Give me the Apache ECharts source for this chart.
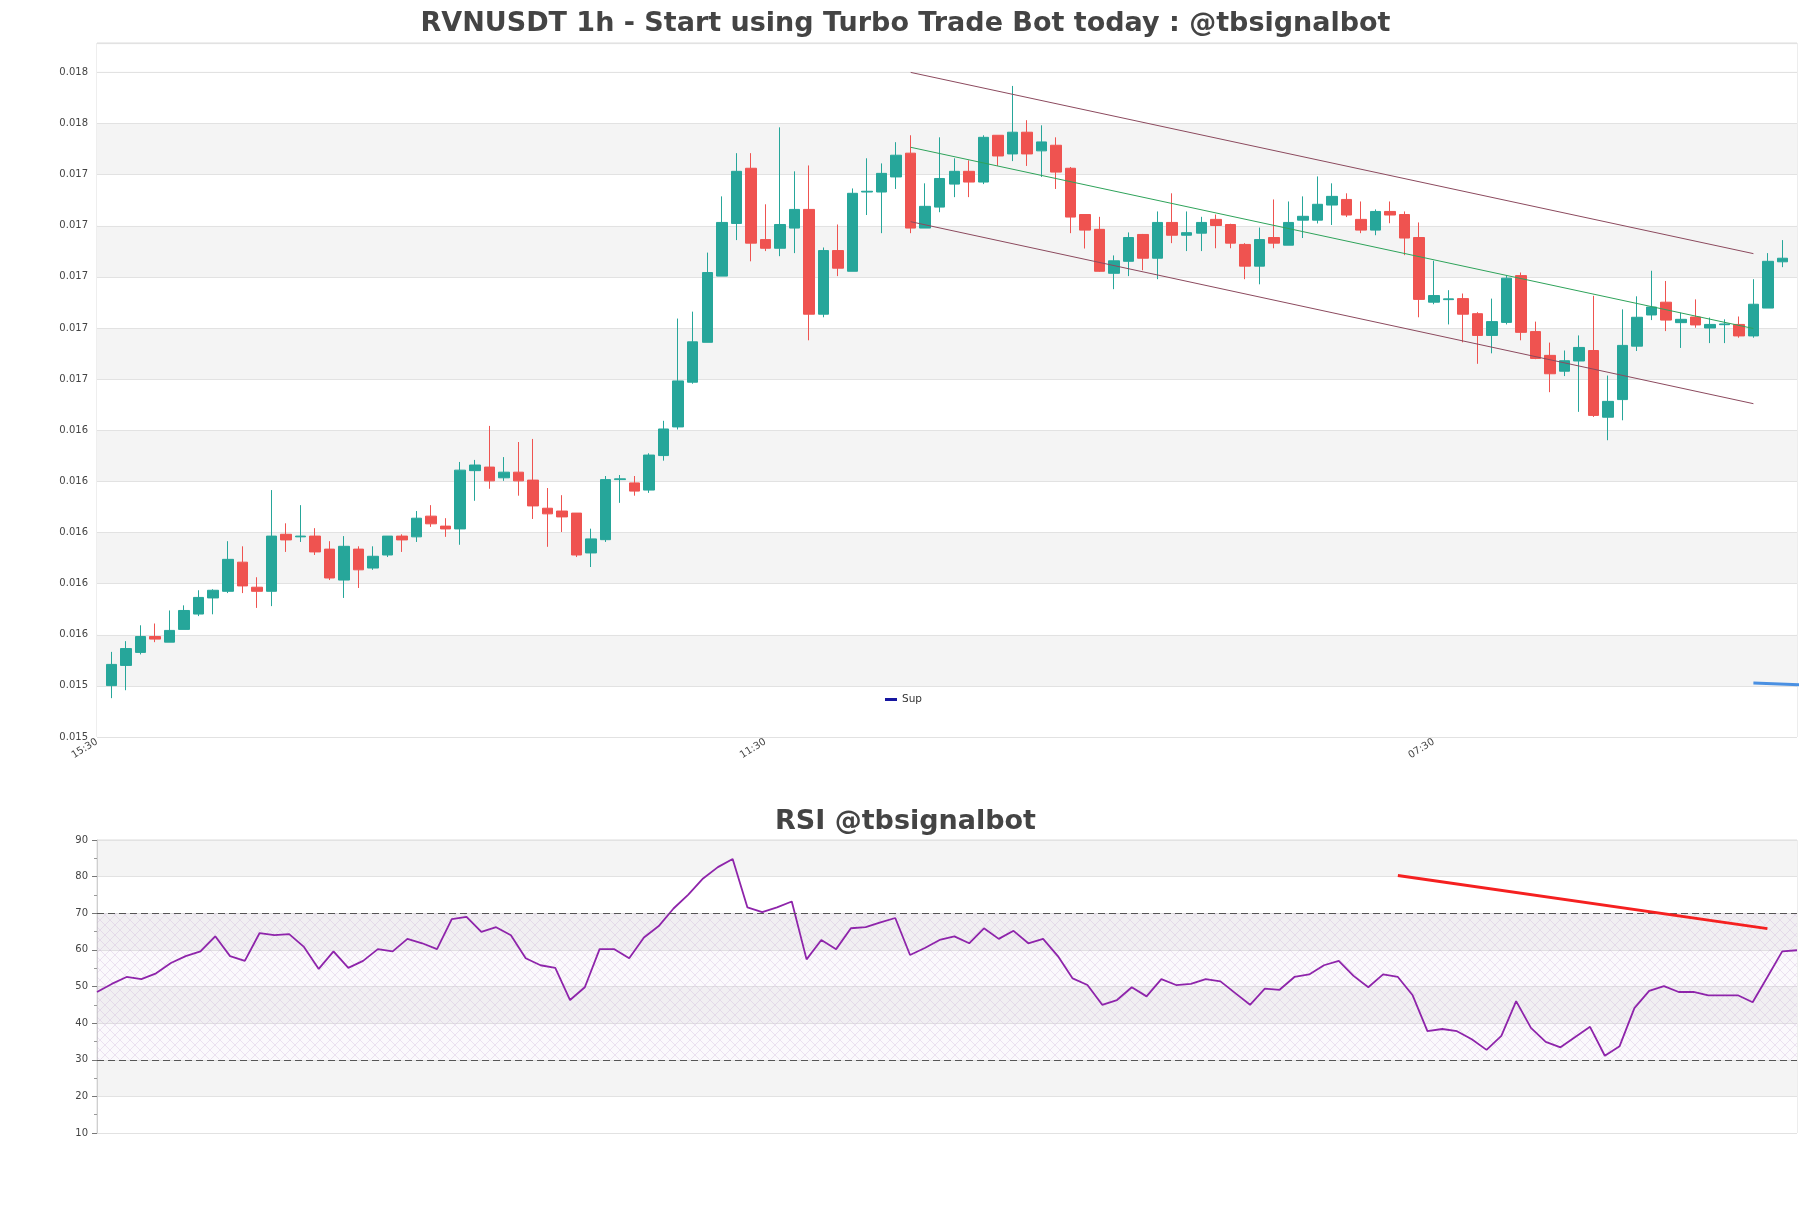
<!DOCTYPE html>
<html><head><meta charset="utf-8">
<script src="https://cdn.jsdelivr.net/npm/echarts@6/dist/echarts.min.js"></script>
<style>html,body{margin:0;padding:0;background:#fff}#c{width:1811px;height:1208px}</style>
</head><body><div id="c"></div>
<script>
const mainTitle = 'RVNUSDT 1h - Start using Turbo Trade Bot today : @tbsignalbot';
const rsiTitle = 'RSI @tbsignalbot';

// x tick labels keyed by axis position (candles sit at 1..116)
const xTickPos = [0, 46, 92];
const xTickLabels = ['15:30', '11:30', '07:30'];

const opens = [0.015401,0.015480,0.015531,0.015593,0.015571,0.015621,0.015681,0.015744,0.015770,0.015884,
0.015786,0.015770,0.015993,0.015983,0.015986,0.015935,0.015814,0.015935,0.015861,0.015912,
0.015986,0.015983,0.016064,0.016025,0.016014,0.016242,0.016256,0.016214,0.016236,0.016205,
0.016095,0.016084,0.016076,0.015920,0.015972,0.016207,0.016194,0.016166,0.016301,0.016413,
0.016588,0.016744,0.017003,0.017209,0.017425,0.017146,0.017112,0.017191,0.017264,0.016854,
0.017103,0.017022,0.017332,0.017332,0.017391,0.017484,0.017191,0.017273,0.017363,0.017413,
0.017371,0.017554,0.017481,0.017566,0.017493,0.017515,0.017425,0.017244,0.017186,0.017014,
0.017061,0.017166,0.017073,0.017213,0.017163,0.017171,0.017225,0.017205,0.017127,0.017042,
0.017154,0.017124,0.017222,0.017222,0.017281,0.017303,0.017225,0.017183,0.017256,0.017244,
0.017154,0.016901,0.016911,0.016915,0.016856,0.016771,0.016822,0.017005,0.016786,0.016693,
0.016631,0.016671,0.016712,0.016451,0.016520,0.016729,0.016851,0.016901,0.016821,0.016843,
0.016800,0.016813,0.016814,0.016769,0.016878,0.017059];
const closes = [0.015484,0.015546,0.015593,0.015583,0.015617,0.015695,0.015746,0.015774,0.015895,0.015791,
0.015770,0.015986,0.015971,0.015986,0.015924,0.015822,0.015946,0.015854,0.015907,0.015986,
0.015971,0.016056,0.016034,0.016014,0.016244,0.016264,0.016202,0.016236,0.016202,0.016104,
0.016073,0.016061,0.015912,0.015975,0.016207,0.016210,0.016162,0.016303,0.016405,0.016593,
0.016746,0.017017,0.017213,0.017413,0.017132,0.017112,0.017205,0.017264,0.016854,0.017103,
0.017034,0.017327,0.017335,0.017405,0.017476,0.017191,0.017276,0.017385,0.017413,0.017371,
0.017546,0.017473,0.017566,0.017481,0.017528,0.017410,0.017234,0.017183,0.017022,0.017063,
0.017154,0.017073,0.017213,0.017163,0.017173,0.017213,0.017201,0.017132,0.017042,0.017146,
0.017132,0.017213,0.017237,0.017284,0.017315,0.017242,0.017183,0.017256,0.017242,0.017152,
0.016912,0.016927,0.016914,0.016854,0.016771,0.016825,0.016995,0.016783,0.016681,0.016621,
0.016672,0.016724,0.016458,0.016513,0.016732,0.016842,0.016882,0.016831,0.016834,0.016812,
0.016814,0.016816,0.016769,0.016893,0.017061,0.017073];
const lows = [0.015352,0.015383,0.015523,0.015571,0.015571,0.015621,0.015673,0.015680,0.015763,0.015763,
0.015705,0.015712,0.015924,0.015963,0.015912,0.015814,0.015744,0.015783,0.015854,0.015904,
0.015924,0.015963,0.016022,0.015983,0.015952,0.016124,0.016171,0.016202,0.016144,0.016053,
0.015944,0.016002,0.015904,0.015865,0.015963,0.016116,0.016144,0.016155,0.016281,0.016403,
0.016582,0.016744,0.017003,0.017144,0.017061,0.017101,0.017081,0.017093,0.016752,0.016842,
0.017003,0.017022,0.017242,0.017171,0.017344,0.017171,0.017191,0.017253,0.017312,0.017312,
0.017363,0.017434,0.017453,0.017434,0.017391,0.017344,0.017171,0.017111,0.017020,0.016952,
0.017003,0.017026,0.016991,0.017132,0.017101,0.017101,0.017112,0.017112,0.016991,0.016971,
0.017112,0.017124,0.017152,0.017209,0.017203,0.017234,0.017171,0.017163,0.017210,0.017085,
0.016842,0.016893,0.016814,0.016744,0.016660,0.016701,0.016814,0.016752,0.016678,0.016549,
0.016612,0.016472,0.016452,0.016361,0.016439,0.016710,0.016831,0.016788,0.016722,0.016801,
0.016741,0.016741,0.016762,0.016762,0.016878,0.017038];
const highs = [0.015533,0.015575,0.015637,0.015644,0.015695,0.015715,0.015774,0.015778,0.015966,0.015946,
0.015825,0.016166,0.016036,0.016107,0.016017,0.015966,0.015986,0.015946,0.015946,0.015986,
0.015993,0.016084,0.016107,0.016056,0.016276,0.016284,0.016417,0.016295,0.016354,0.016366,
0.016174,0.016146,0.016076,0.016015,0.016221,0.016225,0.016221,0.016310,0.016437,0.016837,
0.016864,0.017095,0.017315,0.017484,0.017484,0.017284,0.017585,0.017413,0.017436,0.017115,
0.017205,0.017346,0.017464,0.017444,0.017527,0.017554,0.017366,0.017546,0.017464,0.017456,
0.017554,0.017554,0.017747,0.017613,0.017593,0.017546,0.017430,0.017244,0.017235,0.017084,
0.017174,0.017168,0.017256,0.017327,0.017256,0.017235,0.017244,0.017208,0.017132,0.017193,
0.017303,0.017295,0.017315,0.017393,0.017366,0.017327,0.017295,0.017264,0.017295,0.017256,
0.017213,0.017063,0.016948,0.016935,0.016862,0.016915,0.017007,0.017017,0.016825,0.016743,
0.016712,0.016771,0.016926,0.016614,0.016873,0.016924,0.017024,0.016984,0.016860,0.016912,
0.016841,0.016834,0.016845,0.016991,0.017093,0.017144];

const supportLevel = 0.016114;
// trend channel: [x, y] end points in axis units
const upperLine = [[56, 0.017800], [114, 0.017091]];
const midLine   = [[56, 0.017507], [114, 0.016798]];
const lowerLine = [[56, 0.017216], [114, 0.016504]];
const supLine   = [[114, 0.015411], [117.7, 0.015403]];

const rsiValues = [48.5,50.7,52.6,52.0,53.6,56.4,58.3,59.6,63.7,58.3,
57.0,64.6,64.0,64.3,60.8,54.8,59.6,55.1,57.0,60.2,
59.6,63.0,61.8,60.2,68.4,69.0,64.9,66.2,64.0,57.7,
55.8,55.1,46.3,49.8,60.2,60.2,57.7,63.4,66.5,71.3,
75.1,79.5,82.6,84.8,71.6,70.3,71.6,73.2,57.4,62.7,
60.2,65.9,66.2,67.5,68.7,58.6,60.5,62.7,63.7,61.8,
65.9,63.0,65.2,61.8,63.0,58.3,52.2,50.4,45.0,46.3,
49.8,47.3,52.0,50.4,50.7,52.0,51.4,48.2,45.0,49.4,
49.1,52.6,53.3,55.8,57.0,52.9,49.8,53.3,52.6,47.6,
37.8,38.4,37.8,35.6,32.7,36.5,46.0,38.7,34.9,33.4,
36.2,39.0,31.1,33.7,44.1,48.8,50.1,48.5,48.5,47.6,
47.6,47.6,45.7,52.6,59.6,59.9];
const rsiTrend = [[88, 80.3], [113, 65.8]];
const rsiTicks = [10, 90];

const candleData = opens.map((o, i) => [i + 1, o, closes[i], lows[i], highs[i]]);
const rsiData = rsiValues.map((v, i) => [i, v]);

function hatchPattern() {
  const c = document.createElement('canvas');
  c.width = 10; c.height = 10;
  const g = c.getContext('2d');
  g.fillStyle = 'rgba(215,195,225,0.10)';
  g.fillRect(0, 0, 10, 10);
  g.strokeStyle = 'rgba(195,165,210,0.42)';
  g.lineWidth = 0.7;
  g.beginPath();
  g.moveTo(0, 0); g.lineTo(10, 10);
  g.moveTo(10, 0); g.lineTo(0, 10);
  g.stroke();
  return c;
}

const font = 'DejaVu Sans';
const chart = echarts.init(document.getElementById('c'));
chart.setOption({
  animation: false,
  backgroundColor: '#ffffff',
  title: [
    { text: mainTitle, left: 'center', top: 5,
      textStyle: { fontFamily: font, fontSize: 27, fontWeight: 'bold', color: '#444' } },
    { text: rsiTitle, left: 'center', top: 803,
      textStyle: { fontFamily: font, fontSize: 27, fontWeight: 'bold', color: '#444' } }
  ],
  legend: {
    left: 880, top: 689, icon: 'rect', itemWidth: 12, itemHeight: 3, itemGap: 10,
    data: [{ name: 'Sup', itemStyle: { color: '#1616a0' } }],
    textStyle: { fontFamily: font, fontSize: 10.5, color: '#333' }
  },
  grid: [
    { left: 97, right: 14, top: 43, height: 694, show: true, borderColor: '#dcdcdc', borderWidth: 1, backgroundColor: 'transparent' },
    { left: 97, right: 14, top: 840, height: 293, show: true, borderColor: '#dcdcdc', borderWidth: 1, backgroundColor: 'transparent' }
  ],
  xAxis: [
    { gridIndex: 0, type: 'value', min: 0, max: 117, interval: 46,
      axisLine: { show: false }, axisTick: { show: false }, splitLine: { show: false },
      axisLabel: { rotate: 32, margin: 4, fontFamily: font, fontSize: 10, color: '#444',
        showMaxLabel: false,
        formatter: v => { const k = xTickPos.indexOf(v); return k >= 0 ? xTickLabels[k] : ''; } } },
    { gridIndex: 1, type: 'value', min: 0, max: rsiValues.length - 1,
      axisLine: { show: false }, axisTick: { show: false }, splitLine: { show: false },
      axisLabel: { show: false } }
  ],
  yAxis: [
    { gridIndex: 0, type: 'value', min: 0.0152, max: 0.017915, interval: 0.0002,
      axisLine: { show: false }, axisTick: { show: false },
      axisLabel: { margin: 9, fontFamily: font, fontSize: 10, color: '#444', showMaxLabel: false,
        formatter: v => v.toFixed(3) },
      splitLine: { show: true, lineStyle: { color: '#e2e2e2', width: 1 } },
      splitArea: { show: true, areaStyle: { color: ['#ffffff', '#f4f4f4'] } } },
    { gridIndex: 1, type: 'value', min: rsiTicks[0], max: rsiTicks[1], interval: 10,
      axisLine: { show: true, lineStyle: { color: '#cfcfcf' } },
      axisTick: { show: true, length: 5, lineStyle: { color: '#777' } },
      minorTick: { show: true, splitNumber: 2, length: 3, lineStyle: { color: '#999' } },
      axisLabel: { margin: 9, fontFamily: font, fontSize: 10, color: '#444' },
      splitLine: { show: true, lineStyle: { color: '#e2e2e2', width: 1 } },
      splitArea: { show: true, areaStyle: { color: ['#ffffff', '#f4f4f4'] } } }
  ],
  series: [
    { type: 'candlestick', name: 'RVNUSDT', xAxisIndex: 0, yAxisIndex: 0,
      data: candleData, encode: { x: 0, y: [1, 2, 3, 4] }, barWidth: 11,
      itemStyle: { color: '#26a69a', color0: '#ef5350', borderColor: '#26a69a', borderColor0: '#ef5350', borderWidth: 1 },
      markLine: { silent: true, symbol: 'none', label: { show: false },
        lineStyle: { color: '#3a98d6', type: [9, 5], width: 1.3 },
        data: [{ yAxis: supportLevel }] },
      markArea: { silent: true, itemStyle: { color: '#ffffff' },
        data: [[{ yAxis: 0.017803 }, { yAxis: 0.01791 }]] } },
    { type: 'line', name: 'upper', xAxisIndex: 0, yAxisIndex: 0, data: upperLine, symbol: 'none',
      lineStyle: { color: '#8c4a5e', width: 1 }, z: 4 },
    { type: 'line', name: 'mid', xAxisIndex: 0, yAxisIndex: 0, data: midLine, symbol: 'none',
      lineStyle: { color: '#2ea35a', width: 1 }, z: 4 },
    { type: 'line', name: 'lower', xAxisIndex: 0, yAxisIndex: 0, data: lowerLine, symbol: 'none',
      lineStyle: { color: '#8c4a5e', width: 1 }, z: 4 },
    { type: 'line', name: 'Sup', xAxisIndex: 0, yAxisIndex: 0, data: supLine, symbol: 'none', clip: false,
      itemStyle: { color: '#1616a0' },
      lineStyle: { color: '#4a90e2', width: 3 }, z: 4 },
    { type: 'line', name: 'RSI', xAxisIndex: 1, yAxisIndex: 1, data: rsiData, symbol: 'none',
      lineStyle: { color: '#8e24aa', width: 1.8 }, z: 4,
      markArea: { silent: true, itemStyle: { color: { image: hatchPattern(), repeat: 'repeat' } },
        data: [[{ yAxis: 30 }, { yAxis: 70 }]] },
      markLine: { silent: true, symbol: 'none', label: { show: false },
        lineStyle: { color: '#555', type: [7, 4], width: 1.2 },
        data: [{ yAxis: 70 }, { yAxis: 30 }] } },
    { type: 'line', name: 'rsiTrend', xAxisIndex: 1, yAxisIndex: 1, data: rsiTrend, symbol: 'none',
      lineStyle: { color: '#f52020', width: 3 }, z: 5 }
  ]
});
</script>
</body></html>
